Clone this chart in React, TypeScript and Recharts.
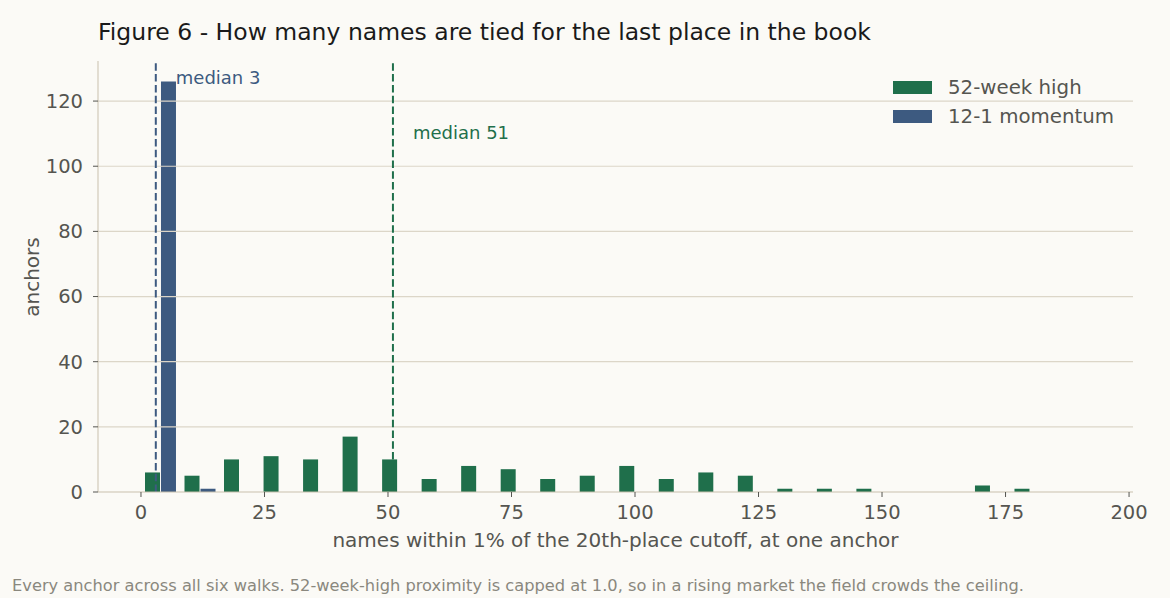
/** Figure 6: names tied for last place, histogram of two signals. */
import React from 'react'
import { Bar, BarChart, ReferenceLine, XAxis, YAxis } from 'recharts'

// bin centres (bins of width 8 starting at 0)
const binCenters = [
  4, 12, 20, 28, 36, 44, 52, 60, 68, 76, 84, 92, 100,
  108, 116, 124, 132, 140, 148, 156, 164, 172, 180, 188, 196,
]
const highCounts = [6, 5, 10, 11, 10, 17, 10, 4, 8, 7, 4, 5, 8, 4, 6, 5, 1, 1, 1, 0, 0, 2, 1, 0, 0]
const momentumCounts = [126, 1, 0, 0, 0, 0, 0, 0, 0, 0, 0, 0, 0, 0, 0, 0, 0, 0, 0, 0, 0, 0, 0, 0, 0]

const xTicks = [0, 25, 50, 75, 100, 125, 150, 175, 200]
const yTicks = [0, 20, 40, 60, 80, 100, 120]
const gridLines = [20, 40, 60, 80, 100, 120]

const MEDIAN_MOMENTUM = 3
const MEDIAN_HIGH = 51

const GREEN = '#1f6f4b'
const BLUE = '#3d5a80'
const BG = '#fbfaf6'
const INK = '#555550'
const FONT = '"DejaVu Sans", sans-serif'

const data = binCenters.map((x, i) => ({
  x,
  high: highCounts[i],
  momentum: momentumCounts[i],
}))

const legendItems = [
  { label: '52-week high', color: GREEN },
  { label: '12-1 momentum', color: BLUE },
]

function LegendBox() {
  return (
    <div
      style={{
        position: 'absolute',
        left: 893,
        top: 73,
        fontSize: 19.8,
        color: INK,
        whiteSpace: 'nowrap',
      }}
    >
      {legendItems.map((it) => (
        <div key={it.label} style={{ display: 'flex', alignItems: 'center', height: 29 }}>
          <span style={{ width: 39, height: 13, background: it.color, marginRight: 16 }} />
          <span>{it.label}</span>
        </div>
      ))}
    </div>
  )
}

function medianLabel(text: string, color: string, dx: number, dyFrac: number) {
  return (props: any) => {
    const vb = props.viewBox || {}
    return (
      <text
        x={vb.x + dx}
        y={vb.y + vb.height * dyFrac}
        fill={color}
        fontSize={18}
        fontFamily={FONT}
        dominantBaseline="central"
      >
        {text}
      </text>
    )
  }
}

export default function App() {
  return (
    <div
      style={{
        position: 'absolute',
        left: 0,
        top: 0,
        width: 1170,
        height: 598,
        background: BG,
        fontFamily: FONT,
      }}
    >
      <div style={{ position: 'absolute', left: 98, top: 18, fontSize: 23.5, color: '#1a1a1a', whiteSpace: 'nowrap' }}>
        Figure 6 - How many names are tied for the last place in the book
      </div>

      <BarChart
        width={1170}
        height={598}
        data={data}
        margin={{ top: 61, left: 38, right: 37, bottom: 76 }}
        barSize={15}
        barGap={1}
        style={{ position: 'absolute', left: 0, top: 0 }}
      >
        <XAxis
          dataKey="x"
          type="number"
          domain={[-8.7, 200.8]}
          allowDataOverflow
          ticks={xTicks}
          interval={0}
          height={30}
          tickSize={5}
          tickMargin={8}
          stroke="#c9c0ad"
          tickLine={{ stroke: INK }}
          tick={{ fill: INK, fontSize: 19.5, fontFamily: FONT }}
        />
        <YAxis
          type="number"
          domain={[0, 132.3]}
          allowDataOverflow
          ticks={yTicks}
          interval={0}
          width={60}
          tickSize={5}
          tickMargin={10}
          stroke="#c9c0ad"
          tickLine={{ stroke: INK }}
          tick={{ fill: INK, fontSize: 19.5, fontFamily: FONT }}
        />
        <Bar dataKey="high" name="52-week high" fill={GREEN} isAnimationActive={false} />
        <Bar dataKey="momentum" name="12-1 momentum" fill={BLUE} isAnimationActive={false} />
        {gridLines.map((g) => (
          <ReferenceLine key={g} y={g} stroke="#dcd6c8" strokeWidth={1.2} />
        ))}
        <ReferenceLine
          x={MEDIAN_MOMENTUM}
          stroke={BLUE}
          strokeWidth={2}
          strokeDasharray="7.5 3.3"
          label={medianLabel('median 3', BLUE, 20, 0.039)}
        />
        <ReferenceLine
          x={MEDIAN_HIGH}
          stroke={GREEN}
          strokeWidth={2}
          strokeDasharray="7.5 3.3"
          label={medianLabel('median 51', GREEN, 20, 0.167)}
        />
      </BarChart>

      <LegendBox />

      <div
        style={{
          position: 'absolute',
          left: 98,
          width: 1035,
          top: 528,
          textAlign: 'center',
          fontSize: 20,
          color: INK,
          whiteSpace: 'nowrap',
        }}
      >
        names within 1% of the 20th-place cutoff, at one anchor
      </div>
      <div
        style={{
          position: 'absolute',
          left: 32,
          top: 277,
          fontSize: 20,
          color: INK,
          transform: 'translate(-50%, -50%) rotate(-90deg)',
          whiteSpace: 'nowrap',
        }}
      >
        anchors
      </div>
      <div style={{ position: 'absolute', left: 12, top: 576, fontSize: 16.25, color: '#8a887e', whiteSpace: 'nowrap' }}>
        Every anchor across all six walks. 52-week-high proximity is capped at 1.0, so in a rising market the field crowds the ceiling.
      </div>
    </div>
  )
}
